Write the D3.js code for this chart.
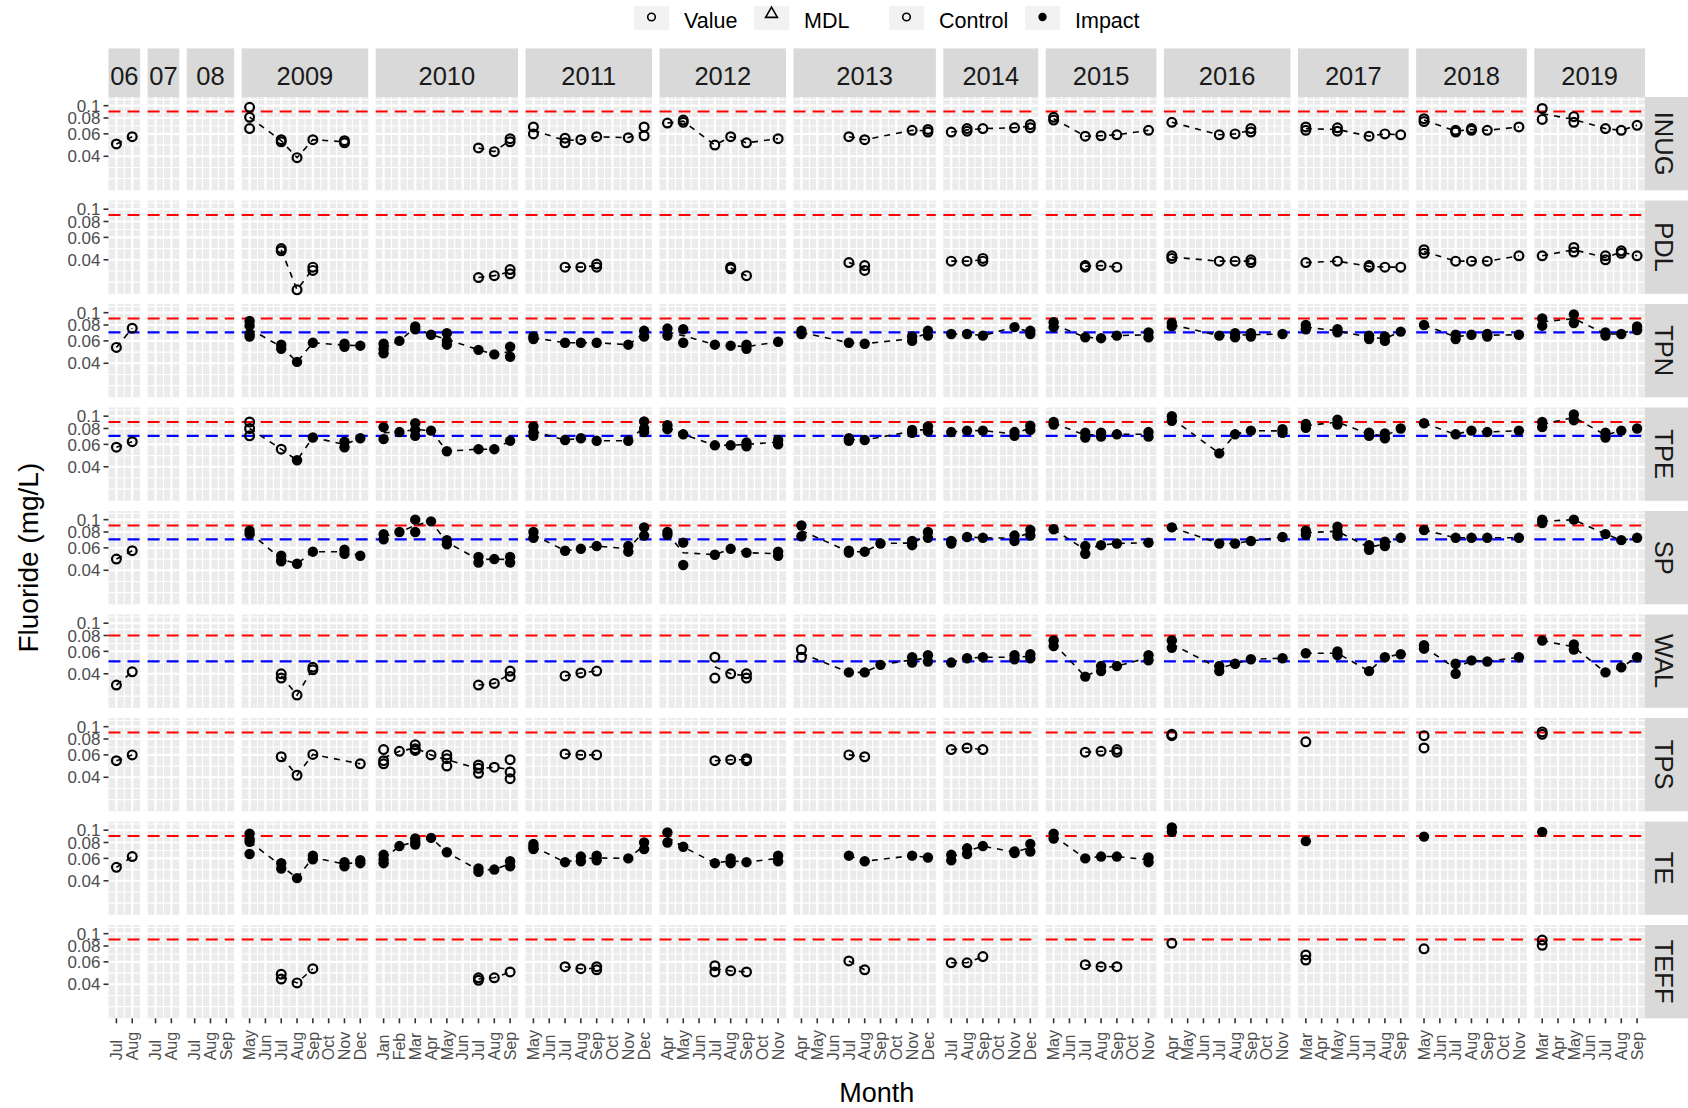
<!DOCTYPE html>
<html>
<head>
<meta charset="utf-8">
<script src="https://cdn.jsdelivr.net/npm/d3@7"></script>
<style>
body { margin: 0; background: #fff; }
text { font-family: "Liberation Sans", Arial, sans-serif; }
</style>
</head>
<body>
<svg id="chart" width="1688" height="1108"></svg>
<script>
// facet rows (stations) and columns (sampling years)
let stations = ["INUG", "PDL", "TPN", "TPE", "SP", "WAL", "TPS", "TE", "TEFF"]
let yearCols = ["06", "07", "08", "2009", "2010", "2011", "2012", "2013", "2014", "2015", "2016", "2017", "2018", "2019"]
let yearMonths = [
    ["Jul", "Aug"], ["Jul", "Aug"], ["Jul", "Aug", "Sep"],
    ["May", "Jun", "Jul", "Aug", "Sep", "Oct", "Nov", "Dec"],
    ["Jan", "Feb", "Mar", "Apr", "May", "Jun", "Jul", "Aug", "Sep"],
    ["May", "Jun", "Jul", "Aug", "Sep", "Oct", "Nov", "Dec"],
    ["Apr", "May", "Jun", "Jul", "Aug", "Sep", "Oct", "Nov"],
    ["Apr", "May", "Jun", "Jul", "Aug", "Sep", "Oct", "Nov", "Dec"],
    ["Jul", "Aug", "Sep", "Oct", "Nov", "Dec"],
    ["May", "Jun", "Jul", "Aug", "Sep", "Oct", "Nov"],
    ["Apr", "May", "Jun", "Jul", "Aug", "Sep", "Oct", "Nov"],
    ["Mar", "Apr", "May", "Jun", "Jul", "Aug", "Sep"],
    ["May", "Jun", "Jul", "Aug", "Sep", "Oct", "Nov"],
    ["Mar", "Apr", "May", "Jun", "Jul", "Aug", "Sep"]
]
let yTicks = [0.04, 0.06, 0.08, 0.1]
let yTickLabels = ["0.04", "0.06", "0.08", "0.1"]

// guideline values per station (red = upper, blue = station benchmark)
let redLimit = [0.09, 0.09, 0.09, 0.09, 0.09, 0.08, 0.09, 0.09, 0.09]
let blueLimit = [null, null, 0.07, 0.07, 0.07, 0.05, null, null, null]

// rows: [year, month, C = control / I = impact, values...]
let INUG = [
    ["06", "Jul", "C", 0.050], ["06", "Aug", "C", 0.057],
    ["2009", "May", "C", 0.097, 0.081, 0.066], ["2009", "Jul", "C", 0.054, 0.052], ["2009", "Aug", "C", 0.039], ["2009", "Sep", "C", 0.054], ["2009", "Nov", "C", 0.053, 0.051],
    ["2010", "Jul", "C", 0.0465], ["2010", "Aug", "C", 0.0435], ["2010", "Sep", "C", 0.055, 0.052],
    ["2011", "May", "C", 0.068, 0.060], ["2011", "Jul", "C", 0.0555, 0.051], ["2011", "Aug", "C", 0.054], ["2011", "Sep", "C", 0.057], ["2011", "Nov", "C", 0.056], ["2011", "Dec", "C", 0.068, 0.058],
    ["2012", "Apr", "C", 0.073], ["2012", "May", "C", 0.077, 0.074], ["2012", "Jul", "C", 0.049], ["2012", "Aug", "C", 0.057], ["2012", "Sep", "C", 0.051], ["2012", "Nov", "C", 0.055],
    ["2013", "Jul", "C", 0.057], ["2013", "Aug", "C", 0.054], ["2013", "Nov", "C", 0.064], ["2013", "Dec", "C", 0.065, 0.062],
    ["2014", "Jul", "C", 0.062], ["2014", "Aug", "C", 0.066, 0.063], ["2014", "Sep", "C", 0.066], ["2014", "Nov", "C", 0.067], ["2014", "Dec", "C", 0.071, 0.067],
    ["2015", "May", "C", 0.081, 0.077], ["2015", "Jul", "C", 0.0575], ["2015", "Aug", "C", 0.058], ["2015", "Sep", "C", 0.059], ["2015", "Nov", "C", 0.064],
    ["2016", "Apr", "C", 0.074], ["2016", "Jul", "C", 0.059], ["2016", "Aug", "C", 0.060], ["2016", "Sep", "C", 0.066, 0.062],
    ["2017", "Mar", "C", 0.068, 0.064], ["2017", "May", "C", 0.067, 0.063], ["2017", "Jul", "C", 0.0575], ["2017", "Aug", "C", 0.060], ["2017", "Sep", "C", 0.059],
    ["2018", "May", "C", 0.079, 0.075], ["2018", "Jul", "C", 0.064, 0.062], ["2018", "Aug", "C", 0.066, 0.064], ["2018", "Sep", "C", 0.064], ["2018", "Nov", "C", 0.068],
    ["2019", "Mar", "C", 0.095, 0.078], ["2019", "May", "C", 0.082, 0.074], ["2019", "Jul", "C", 0.066], ["2019", "Aug", "C", 0.064], ["2019", "Sep", "C", 0.070]
]
let PDL = [
    ["2009", "Jul", "C", 0.049, 0.047], ["2009", "Aug", "C", 0.0232], ["2009", "Sep", "C", 0.035, 0.033],
    ["2010", "Jul", "C", 0.029], ["2010", "Aug", "C", 0.030], ["2010", "Sep", "C", 0.0335, 0.031],
    ["2011", "Jul", "C", 0.035], ["2011", "Aug", "C", 0.035], ["2011", "Sep", "C", 0.037, 0.035],
    ["2012", "Aug", "C", 0.035, 0.034], ["2012", "Sep", "C", 0.030],
    ["2013", "Jul", "C", 0.038], ["2013", "Aug", "C", 0.036, 0.033],
    ["2014", "Jul", "C", 0.039], ["2014", "Aug", "C", 0.039], ["2014", "Sep", "C", 0.041, 0.039],
    ["2015", "Jul", "C", 0.036, 0.035], ["2015", "Aug", "C", 0.036], ["2015", "Sep", "C", 0.035],
    ["2016", "Apr", "C", 0.043, 0.041], ["2016", "Jul", "C", 0.039], ["2016", "Aug", "C", 0.039], ["2016", "Sep", "C", 0.040, 0.038],
    ["2017", "Mar", "C", 0.038], ["2017", "May", "C", 0.039], ["2017", "Jul", "C", 0.036, 0.035], ["2017", "Aug", "C", 0.035], ["2017", "Sep", "C", 0.035],
    ["2018", "May", "C", 0.048, 0.045], ["2018", "Jul", "C", 0.039], ["2018", "Aug", "C", 0.039], ["2018", "Sep", "C", 0.039], ["2018", "Nov", "C", 0.043],
    ["2019", "Mar", "C", 0.043], ["2019", "May", "C", 0.050, 0.046], ["2019", "Jul", "C", 0.043, 0.040], ["2019", "Aug", "C", 0.047, 0.045], ["2019", "Sep", "C", 0.043]
]
let TPN = [
    ["06", "Jul", "C", 0.0533], ["06", "Aug", "C", 0.0755],
    ["2009", "May", "I", 0.086, 0.079, 0.068, 0.065], ["2009", "Jul", "I", 0.056, 0.052], ["2009", "Aug", "I", 0.041], ["2009", "Sep", "I", 0.058], ["2009", "Nov", "I", 0.057, 0.054], ["2009", "Dec", "I", 0.055],
    ["2010", "Jan", "I", 0.057, 0.052, 0.048], ["2010", "Feb", "I", 0.060], ["2010", "Mar", "I", 0.078, 0.074], ["2010", "Apr", "I", 0.067], ["2010", "May", "I", 0.069, 0.060, 0.056], ["2010", "Jul", "I", 0.051], ["2010", "Aug", "I", 0.047], ["2010", "Sep", "I", 0.054, 0.045],
    ["2011", "May", "I", 0.065, 0.062], ["2011", "Jul", "I", 0.058], ["2011", "Aug", "I", 0.058], ["2011", "Sep", "I", 0.058], ["2011", "Nov", "I", 0.056], ["2011", "Dec", "I", 0.072, 0.065],
    ["2012", "Apr", "I", 0.075, 0.066], ["2012", "May", "I", 0.074, 0.058], ["2012", "Jul", "I", 0.056], ["2012", "Aug", "I", 0.055], ["2012", "Sep", "I", 0.056, 0.052], ["2012", "Nov", "I", 0.059],
    ["2013", "Apr", "I", 0.072, 0.068], ["2013", "Jul", "I", 0.058], ["2013", "Aug", "I", 0.057], ["2013", "Nov", "I", 0.065, 0.060], ["2013", "Dec", "I", 0.072, 0.066],
    ["2014", "Jul", "I", 0.068], ["2014", "Aug", "I", 0.068], ["2014", "Sep", "I", 0.066], ["2014", "Nov", "I", 0.077], ["2014", "Dec", "I", 0.072, 0.068],
    ["2015", "May", "I", 0.084, 0.077], ["2015", "Jul", "I", 0.064], ["2015", "Aug", "I", 0.063], ["2015", "Sep", "I", 0.066], ["2015", "Nov", "I", 0.070, 0.064],
    ["2016", "Apr", "I", 0.083, 0.078], ["2016", "Jul", "I", 0.066], ["2016", "Aug", "I", 0.069, 0.064], ["2016", "Sep", "I", 0.069, 0.065], ["2016", "Nov", "I", 0.068],
    ["2017", "Mar", "I", 0.080, 0.074], ["2017", "May", "I", 0.074, 0.070], ["2017", "Jul", "I", 0.066, 0.062], ["2017", "Aug", "I", 0.065, 0.060], ["2017", "Sep", "I", 0.071],
    ["2018", "May", "I", 0.080], ["2018", "Jul", "I", 0.067, 0.062], ["2018", "Aug", "I", 0.067], ["2018", "Sep", "I", 0.068, 0.065], ["2018", "Nov", "I", 0.067],
    ["2019", "Mar", "I", 0.090, 0.079], ["2019", "May", "I", 0.097, 0.083], ["2019", "Jul", "I", 0.070, 0.066], ["2019", "Aug", "I", 0.068], ["2019", "Sep", "I", 0.078, 0.073]
]
let TPE = [
    ["06", "Jul", "C", 0.057], ["06", "Aug", "C", 0.063],
    ["2009", "May", "C", 0.090, 0.080, 0.070], ["2009", "Jul", "C", 0.055], ["2009", "Aug", "I", 0.045], ["2009", "Sep", "I", 0.068], ["2009", "Nov", "I", 0.063, 0.057], ["2009", "Dec", "I", 0.067],
    ["2010", "Jan", "I", 0.082, 0.066], ["2010", "Feb", "I", 0.075], ["2010", "Mar", "I", 0.088, 0.078, 0.070], ["2010", "Apr", "I", 0.077], ["2010", "May", "I", 0.053], ["2010", "Jul", "I", 0.055], ["2010", "Aug", "I", 0.055], ["2010", "Sep", "I", 0.064],
    ["2011", "May", "I", 0.083, 0.075, 0.070], ["2011", "Jul", "I", 0.065], ["2011", "Aug", "I", 0.067], ["2011", "Sep", "I", 0.064], ["2011", "Nov", "I", 0.064], ["2011", "Dec", "I", 0.091, 0.080, 0.075],
    ["2012", "Apr", "I", 0.085, 0.079], ["2012", "May", "I", 0.072], ["2012", "Jul", "I", 0.059], ["2012", "Aug", "I", 0.059], ["2012", "Sep", "I", 0.062, 0.058], ["2012", "Nov", "I", 0.065, 0.060],
    ["2013", "Jul", "I", 0.067, 0.064], ["2013", "Aug", "I", 0.065], ["2013", "Nov", "I", 0.078, 0.074], ["2013", "Dec", "I", 0.083, 0.076],
    ["2014", "Jul", "I", 0.075], ["2014", "Aug", "I", 0.077], ["2014", "Sep", "I", 0.077], ["2014", "Nov", "I", 0.075, 0.070], ["2014", "Dec", "I", 0.084, 0.078],
    ["2015", "May", "I", 0.090, 0.086], ["2015", "Jul", "I", 0.074, 0.068], ["2015", "Aug", "I", 0.074, 0.069], ["2015", "Sep", "I", 0.072], ["2015", "Nov", "I", 0.075, 0.069],
    ["2016", "Apr", "I", 0.100, 0.092], ["2016", "Jul", "I", 0.051], ["2016", "Aug", "I", 0.072], ["2016", "Sep", "I", 0.077], ["2016", "Nov", "I", 0.079, 0.074],
    ["2017", "Mar", "I", 0.087, 0.081], ["2017", "May", "I", 0.094, 0.086], ["2017", "Jul", "I", 0.074, 0.070], ["2017", "Aug", "I", 0.073, 0.067], ["2017", "Sep", "I", 0.080],
    ["2018", "May", "I", 0.088], ["2018", "Jul", "I", 0.072], ["2018", "Aug", "I", 0.077], ["2018", "Sep", "I", 0.075], ["2018", "Nov", "I", 0.077],
    ["2019", "Mar", "I", 0.090, 0.082], ["2019", "May", "I", 0.103, 0.093], ["2019", "Jul", "I", 0.074, 0.068], ["2019", "Aug", "I", 0.077], ["2019", "Sep", "I", 0.080]
]
let SP = [
    ["06", "Jul", "C", 0.049], ["06", "Aug", "C", 0.057],
    ["2009", "May", "I", 0.082, 0.077], ["2009", "Jul", "I", 0.052, 0.048, 0.047], ["2009", "Aug", "I", 0.045], ["2009", "Sep", "I", 0.056], ["2009", "Nov", "I", 0.058, 0.054], ["2009", "Dec", "I", 0.052],
    ["2010", "Jan", "I", 0.077, 0.070], ["2010", "Feb", "I", 0.080], ["2010", "Mar", "I", 0.100, 0.080], ["2010", "Apr", "I", 0.097], ["2010", "May", "I", 0.069, 0.064], ["2010", "Jul", "I", 0.051, 0.046], ["2010", "Aug", "I", 0.049], ["2010", "Sep", "I", 0.051, 0.046],
    ["2011", "May", "I", 0.080, 0.072], ["2011", "Jul", "I", 0.057], ["2011", "Aug", "I", 0.059], ["2011", "Sep", "I", 0.062], ["2011", "Nov", "I", 0.062, 0.056], ["2011", "Dec", "I", 0.087, 0.075],
    ["2012", "Apr", "I", 0.080, 0.076], ["2012", "May", "I", 0.066, 0.044], ["2012", "Jul", "I", 0.053], ["2012", "Aug", "I", 0.059], ["2012", "Sep", "I", 0.055], ["2012", "Nov", "I", 0.056, 0.052],
    ["2013", "Apr", "I", 0.090, 0.074], ["2013", "Jul", "I", 0.057, 0.055], ["2013", "Aug", "I", 0.056], ["2013", "Sep", "I", 0.065], ["2013", "Nov", "I", 0.068, 0.063], ["2013", "Dec", "I", 0.080, 0.072],
    ["2014", "Jul", "I", 0.068, 0.065], ["2014", "Aug", "I", 0.073], ["2014", "Sep", "I", 0.072], ["2014", "Nov", "I", 0.075, 0.068], ["2014", "Dec", "I", 0.083, 0.075],
    ["2015", "May", "I", 0.084], ["2015", "Jul", "I", 0.062, 0.054], ["2015", "Aug", "I", 0.063], ["2015", "Sep", "I", 0.065], ["2015", "Nov", "I", 0.066],
    ["2016", "Apr", "I", 0.087], ["2016", "Jul", "I", 0.065], ["2016", "Aug", "I", 0.065], ["2016", "Sep", "I", 0.068], ["2016", "Nov", "I", 0.073],
    ["2017", "Mar", "I", 0.082, 0.076], ["2017", "May", "I", 0.088, 0.080, 0.075], ["2017", "Jul", "I", 0.063, 0.058], ["2017", "Aug", "I", 0.067, 0.062], ["2017", "Sep", "I", 0.072],
    ["2018", "May", "I", 0.083], ["2018", "Jul", "I", 0.072], ["2018", "Aug", "I", 0.072], ["2018", "Sep", "I", 0.072], ["2018", "Nov", "I", 0.072],
    ["2019", "Mar", "I", 0.100, 0.094], ["2019", "May", "I", 0.100], ["2019", "Jul", "I", 0.077], ["2019", "Aug", "I", 0.069], ["2019", "Sep", "I", 0.072]
]
let WAL = [
    ["06", "Jul", "C", 0.0326], ["06", "Aug", "C", 0.0414],
    ["2009", "Jul", "C", 0.040, 0.037], ["2009", "Aug", "C", 0.0272], ["2009", "Sep", "C", 0.045, 0.043],
    ["2010", "Jul", "C", 0.0326], ["2010", "Aug", "C", 0.0336], ["2010", "Sep", "C", 0.042, 0.038],
    ["2011", "Jul", "C", 0.0385], ["2011", "Aug", "C", 0.0406], ["2011", "Sep", "C", 0.042],
    ["2012", "Jul", "C", 0.054, 0.037], ["2012", "Aug", "C", 0.040], ["2012", "Sep", "C", 0.040, 0.037],
    ["2013", "Apr", "C", 0.062, 0.054], ["2013", "Jul", "I", 0.041], ["2013", "Aug", "I", 0.041], ["2013", "Sep", "I", 0.047], ["2013", "Nov", "I", 0.054, 0.049], ["2013", "Dec", "I", 0.056, 0.050],
    ["2014", "Jul", "I", 0.049], ["2014", "Aug", "I", 0.053], ["2014", "Sep", "I", 0.054], ["2014", "Nov", "I", 0.056, 0.052], ["2014", "Dec", "I", 0.057, 0.053],
    ["2015", "May", "I", 0.073, 0.066], ["2015", "Jul", "I", 0.038], ["2015", "Aug", "I", 0.046, 0.042], ["2015", "Sep", "I", 0.046], ["2015", "Nov", "I", 0.056, 0.051],
    ["2016", "Apr", "I", 0.073, 0.064], ["2016", "Jul", "I", 0.046, 0.042], ["2016", "Aug", "I", 0.048], ["2016", "Sep", "I", 0.052], ["2016", "Nov", "I", 0.053],
    ["2017", "Mar", "I", 0.058], ["2017", "May", "I", 0.060, 0.056], ["2017", "Jul", "I", 0.042], ["2017", "Aug", "I", 0.054], ["2017", "Sep", "I", 0.057],
    ["2018", "May", "I", 0.067, 0.063], ["2018", "Jul", "I", 0.048, 0.040], ["2018", "Aug", "I", 0.051], ["2018", "Sep", "I", 0.050], ["2018", "Nov", "I", 0.054],
    ["2019", "Mar", "I", 0.073], ["2019", "May", "I", 0.068, 0.062], ["2019", "Jul", "I", 0.041], ["2019", "Aug", "I", 0.045], ["2019", "Sep", "I", 0.054]
]
let TPS = [
    ["06", "Jul", "C", 0.054], ["06", "Aug", "C", 0.060],
    ["2009", "Jul", "C", 0.058], ["2009", "Aug", "C", 0.0415], ["2009", "Sep", "C", 0.0605], ["2009", "Dec", "C", 0.051],
    ["2010", "Jan", "C", 0.066, 0.054, 0.051], ["2010", "Feb", "C", 0.064], ["2010", "Mar", "C", 0.072, 0.067, 0.065], ["2010", "Apr", "C", 0.060], ["2010", "May", "C", 0.060, 0.056, 0.049], ["2010", "Jul", "C", 0.050, 0.047, 0.043], ["2010", "Aug", "C", 0.048], ["2010", "Sep", "C", 0.055, 0.044, 0.039],
    ["2011", "Jul", "C", 0.061], ["2011", "Aug", "C", 0.060], ["2011", "Sep", "C", 0.060],
    ["2012", "Jul", "C", 0.054], ["2012", "Aug", "C", 0.055], ["2012", "Sep", "C", 0.056, 0.054],
    ["2013", "Jul", "C", 0.060], ["2013", "Aug", "C", 0.058],
    ["2014", "Jul", "C", 0.066], ["2014", "Aug", "C", 0.068], ["2014", "Sep", "C", 0.066],
    ["2015", "Jul", "C", 0.063], ["2015", "Aug", "C", 0.064], ["2015", "Sep", "C", 0.066, 0.063],
    ["2016", "Apr", "C", 0.087, 0.085],
    ["2017", "Mar", "C", 0.076],
    ["2018", "May", "C", 0.085, 0.068],
    ["2019", "Mar", "C", 0.091, 0.087]
]
let TE = [
    ["06", "Jul", "C", 0.051], ["06", "Aug", "C", 0.062],
    ["2009", "May", "I", 0.094, 0.085, 0.081, 0.065], ["2009", "Jul", "I", 0.055, 0.050], ["2009", "Aug", "I", 0.042], ["2009", "Sep", "I", 0.063, 0.059], ["2009", "Nov", "I", 0.056, 0.052], ["2009", "Dec", "I", 0.058, 0.055],
    ["2010", "Jan", "I", 0.064, 0.059, 0.055], ["2010", "Feb", "I", 0.075], ["2010", "Mar", "I", 0.086, 0.080, 0.077], ["2010", "Apr", "I", 0.087], ["2010", "May", "I", 0.067], ["2010", "Jul", "I", 0.050, 0.047], ["2010", "Aug", "I", 0.049], ["2010", "Sep", "I", 0.057, 0.052],
    ["2011", "May", "I", 0.078, 0.074, 0.071], ["2011", "Jul", "I", 0.056], ["2011", "Aug", "I", 0.062, 0.057], ["2011", "Sep", "I", 0.063, 0.058], ["2011", "Nov", "I", 0.060], ["2011", "Dec", "I", 0.080, 0.071],
    ["2012", "Apr", "I", 0.096, 0.080], ["2012", "May", "I", 0.074], ["2012", "Jul", "I", 0.055], ["2012", "Aug", "I", 0.060, 0.055], ["2012", "Sep", "I", 0.056], ["2012", "Nov", "I", 0.063, 0.057],
    ["2013", "Jul", "I", 0.063], ["2013", "Aug", "I", 0.057], ["2013", "Nov", "I", 0.063], ["2013", "Dec", "I", 0.061],
    ["2014", "Jul", "I", 0.064, 0.058], ["2014", "Aug", "I", 0.072, 0.065], ["2014", "Sep", "I", 0.075], ["2014", "Nov", "I", 0.068, 0.066], ["2014", "Dec", "I", 0.078, 0.068],
    ["2015", "May", "I", 0.094, 0.086], ["2015", "Jul", "I", 0.060], ["2015", "Aug", "I", 0.062], ["2015", "Sep", "I", 0.062], ["2015", "Nov", "I", 0.061, 0.056],
    ["2016", "Apr", "I", 0.105, 0.097],
    ["2017", "Mar", "I", 0.082],
    ["2018", "May", "I", 0.089],
    ["2019", "Mar", "I", 0.097]
]
let TEFF = [
    ["2009", "Jul", "C", 0.048, 0.044], ["2009", "Aug", "C", 0.041], ["2009", "Sep", "C", 0.053],
    ["2010", "Jul", "C", 0.045, 0.043], ["2010", "Aug", "C", 0.045], ["2010", "Sep", "C", 0.050],
    ["2011", "Jul", "C", 0.055], ["2011", "Aug", "C", 0.053], ["2011", "Sep", "C", 0.055, 0.052],
    ["2012", "Jul", "C", 0.056, 0.050], ["2012", "Aug", "C", 0.051], ["2012", "Sep", "C", 0.050],
    ["2013", "Jul", "C", 0.061], ["2013", "Aug", "C", 0.052],
    ["2014", "Jul", "C", 0.059], ["2014", "Aug", "C", 0.059], ["2014", "Sep", "C", 0.066],
    ["2015", "Jul", "C", 0.057], ["2015", "Aug", "C", 0.055], ["2015", "Sep", "C", 0.055],
    ["2016", "Apr", "C", 0.084],
    ["2017", "Mar", "C", 0.068, 0.062],
    ["2018", "May", "C", 0.076],
    ["2019", "Mar", "C", 0.089, 0.081]
]
let stationRows = [INUG, PDL, TPN, TPE, SP, WAL, TPS, TE, TEFF]

// layout of the facet grid
let plotLeft = 108.5, plotRight = 1645, gapX = 7.5
let plotTop = 97, panelH = 93.3, gapY = 10.2
let stripH = 48.6, stripW = 43

let totalMonths = d3.sum(yearMonths, (m) => m.length)
let unit = (plotRight - plotLeft - gapX * (yearCols.length - 1)) / totalMonths

// one band scale per year column
let xScales = []
let colX = plotLeft
yearMonths.forEach(function(months) {
    let w = months.length * unit
    xScales.push(d3.scaleBand().domain(months).range([colX, colX + w]).padding(0))
    colX += w + gapX
})
let rowY = stations.map((s, i) => plotTop + i * (panelH + gapY))

// log y scale shared by every panel
let y = d3.scaleLog().domain([0.0216, 0.117]).range([panelH, 0])

// minor breaks like ggplot: midpoints in log space, extended one step past the ends
let logB = yTicks.map(Math.log10)
let extB = [logB[0] - (logB[1] - logB[0])].concat(logB, [logB[3] + (logB[3] - logB[2])])
let yMinor = []
for (let i = 0; i < extB.length - 1; i++) yMinor.push(extB[i], (extB[i] + extB[i + 1]) / 2)
yMinor = yMinor.map((d) => Math.pow(10, d))

let svg = d3.select("#chart")

// ---------- panels ----------
stations.forEach(function(station, r) {
    let rows = stationRows[r]
    yearCols.forEach(function(year, c) {
        let x = xScales[c]
        let x0 = x.range()[0], x1 = x.range()[1]
        let g = svg.append("g").attr("transform", "translate(0," + rowY[r] + ")")

        g.append("rect")
            .attr("x", x0).attr("y", 0)
            .attr("width", x1 - x0).attr("height", panelH)
            .style("fill", "#EBEBEB")

        // minor horizontal grid
        g.selectAll(".ymin").data(yMinor.filter((d) => y(d) >= 0 && y(d) <= panelH)).enter()
            .append("line")
            .attr("x1", x0).attr("x2", x1)
            .attr("y1", (d) => y(d)).attr("y2", (d) => y(d))
            .style("stroke", "#fff").style("stroke-width", 1.1)

        // minor vertical grid at month boundaries
        g.selectAll(".xmin").data(x.domain().slice(1)).enter()
            .append("line")
            .attr("x1", (d) => x(d)).attr("x2", (d) => x(d))
            .attr("y1", 0).attr("y2", panelH)
            .style("stroke", "#fff").style("stroke-width", 1.1)

        // major grid
        g.selectAll(".ymaj").data(yTicks).enter()
            .append("line")
            .attr("x1", x0).attr("x2", x1)
            .attr("y1", (d) => y(d)).attr("y2", (d) => y(d))
            .style("stroke", "#fff").style("stroke-width", 2.2)
        g.selectAll(".xmaj").data(x.domain()).enter()
            .append("line")
            .attr("x1", (d) => x(d) + x.bandwidth() / 2).attr("x2", (d) => x(d) + x.bandwidth() / 2)
            .attr("y1", 0).attr("y2", panelH)
            .style("stroke", "#fff").style("stroke-width", 2.2)

        // guideline values
        g.append("line")
            .attr("x1", x0).attr("x2", x1)
            .attr("y1", y(redLimit[r])).attr("y2", y(redLimit[r]))
            .style("stroke", "#FF0000").style("stroke-width", 2.2)
            .style("stroke-dasharray", "12,7")
        if (blueLimit[r] != null) {
            g.append("line")
                .attr("x1", x0).attr("x2", x1)
                .attr("y1", y(blueLimit[r])).attr("y2", y(blueLimit[r]))
                .style("stroke", "#0000FF").style("stroke-width", 2.2)
                .style("stroke-dasharray", "12,7")
        }

        // samples for this station and year
        let cell = rows.filter((d) => d[0] === year)
        if (cell.length === 0) return
        cell.sort((a, b) => x.domain().indexOf(a[1]) - x.domain().indexOf(b[1]))

        // dashed line through the monthly means
        let means = cell.map((d) => ({month: d[1], value: d3.mean(d.slice(3))}))
        g.append("path")
            .datum(means)
            .attr("d", d3.line()
                .x((d) => x(d.month) + x.bandwidth() / 2)
                .y((d) => y(d.value)))
            .style("fill", "none")
            .style("stroke", "#000")
            .style("stroke-width", 1.6)
            .style("stroke-dasharray", "6,6")

        let points = []
        cell.forEach(function(d) {
            d.slice(3).forEach(function(v) {
                points.push({month: d[1], type: d[2], value: v})
            })
        })
        g.selectAll(".pt").data(points).enter()
            .append("circle")
            .attr("cx", (d) => x(d.month) + x.bandwidth() / 2)
            .attr("cy", (d) => y(d.value))
            .attr("r", (d) => d.type === "C" ? 4.4 : 5.2)
            .style("fill", (d) => d.type === "C" ? "none" : "#000")
            .style("stroke", (d) => d.type === "C" ? "#000" : "none")
            .style("stroke-width", 2.2)
    })
})

// ---------- strips ----------
yearCols.forEach(function(year, c) {
    let r0 = xScales[c].range()
    svg.append("rect")
        .attr("x", r0[0]).attr("y", plotTop - stripH)
        .attr("width", r0[1] - r0[0]).attr("height", stripH)
        .style("fill", "#D9D9D9")
    svg.append("text")
        .attr("x", (r0[0] + r0[1]) / 2).attr("y", plotTop - stripH / 2 + 3)
        .attr("dy", "0.36em")
        .style("text-anchor", "middle")
        .style("font-size", "25.5px")
        .style("fill", "#1A1A1A")
        .text(year)
})
stations.forEach(function(station, r) {
    svg.append("rect")
        .attr("x", plotRight).attr("y", rowY[r])
        .attr("width", stripW).attr("height", panelH)
        .style("fill", "#D9D9D9")
    svg.append("text")
        .attr("transform", "translate(" + (plotRight + stripW / 2 - 2) + "," + (rowY[r] + panelH / 2) + ") rotate(90)")
        .attr("dy", "0.36em")
        .style("text-anchor", "middle")
        .style("font-size", "25.5px")
        .style("fill", "#1A1A1A")
        .text(station)
})

// ---------- y axes ----------
stations.forEach(function(station, r) {
    let g = svg.append("g").attr("transform", "translate(0," + rowY[r] + ")")
    yTicks.forEach(function(t, i) {
        g.append("line")
            .attr("x1", plotLeft - 5).attr("x2", plotLeft)
            .attr("y1", y(t)).attr("y2", y(t))
            .style("stroke", "#333").style("stroke-width", 1.6)
        g.append("text")
            .attr("x", plotLeft - 8).attr("y", y(t))
            .attr("dy", "0.36em")
            .style("text-anchor", "end")
            .style("font-size", "17px")
            .style("fill", "#4D4D4D")
            .text(yTickLabels[i])
    })
})

// ---------- x axes ----------
let axisY = rowY[stations.length - 1] + panelH
yearMonths.forEach(function(months, c) {
    let x = xScales[c]
    months.forEach(function(m) {
        let cx = x(m) + x.bandwidth() / 2
        svg.append("line")
            .attr("x1", cx).attr("x2", cx)
            .attr("y1", axisY).attr("y2", axisY + 5)
            .style("stroke", "#333").style("stroke-width", 1.6)
        svg.append("text")
            .attr("transform", "translate(" + cx + "," + (axisY + 42) + ") rotate(-90)")
            .attr("dy", "0.36em")
            .style("text-anchor", "start")
            .style("font-size", "16px")
            .style("fill", "#4D4D4D")
            .text(m)
    })
})

// axis titles
svg.append("text")
    .attr("x", (plotLeft + plotRight) / 2).attr("y", 1102)
    .style("text-anchor", "middle")
    .style("font-size", "27px")
    .text("Month")
svg.append("text")
    .attr("transform", "translate(28," + (plotTop + (axisY - plotTop) / 2) + ") rotate(-90)")
    .attr("dy", "0.36em")
    .style("text-anchor", "middle")
    .style("font-size", "28px")
    .text("Fluoride (mg/L)")

// ---------- legend ----------
let legendKeys = [
    {label: "Value", x: 634, shape: "open"},
    {label: "MDL", x: 754, shape: "triangle"},
    {label: "Control", x: 889, shape: "openSmall"},
    {label: "Impact", x: 1025, shape: "filled"}
]
let legend = svg.append("g")
legendKeys.forEach(function(k) {
    legend.append("rect")
        .attr("x", k.x).attr("y", 6)
        .attr("width", 35).attr("height", 24)
        .style("fill", "#F2F2F2")
    let cx = k.x + 17.5, cy = 17
    if (k.shape === "triangle") {
        legend.append("path")
            .attr("d", d3.symbol().type(d3.symbolTriangle).size(60)())
            .attr("transform", "translate(" + cx + "," + (cy - 3) + ")")
            .style("fill", "none").style("stroke", "#000").style("stroke-width", 1.6)
    } else {
        legend.append("circle")
            .attr("cx", cx).attr("cy", cy)
            .attr("r", k.shape === "filled" ? 4.2 : 3.8)
            .style("fill", k.shape === "filled" ? "#000" : "none")
            .style("stroke", k.shape === "filled" ? "none" : "#000")
            .style("stroke-width", 1.6)
    }
    legend.append("text")
        .attr("x", k.x + 50).attr("y", 20)
        .attr("dy", "0.36em")
        .style("font-size", "21.5px")
        .text(k.label)
})
</script>
</body>
</html>
